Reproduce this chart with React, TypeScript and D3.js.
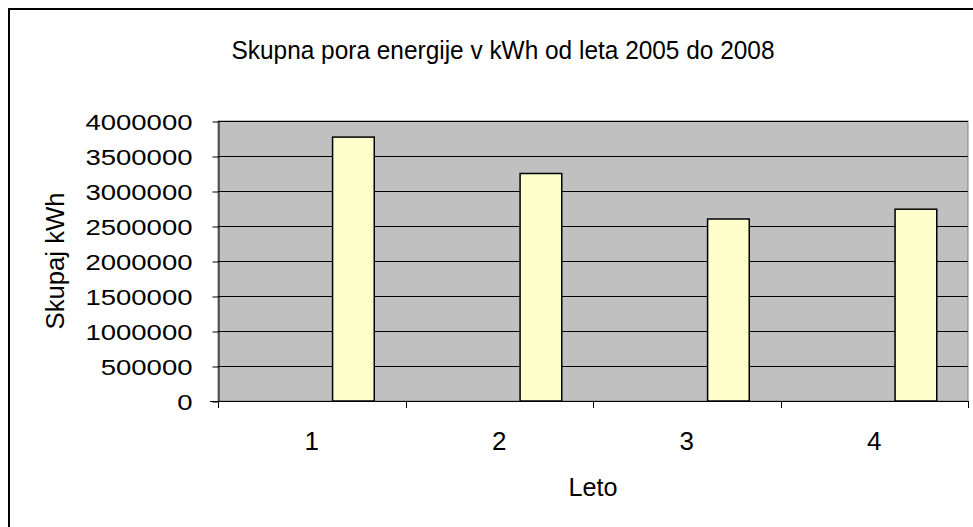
import * as d3 from 'd3';
import React, { useRef, useEffect } from 'react';

const years = ['1', '2', '3', '4'];
// chart had 3 series slots, only the last one is filled
const seriesKeys = ['a', 'b', 'skupaj'];
const totals = [3770000, 3250000, 2600000, 2740000];
const yTicks = [0, 500000, 1000000, 1500000, 2000000, 2500000, 3000000, 3500000, 4000000];

const W = 973;
const H = 527;

function App() {
    const ref = useRef<SVGSVGElement>(null);

    useEffect(() => {
        const svg = d3.select(ref.current);
        svg.selectAll('*').remove();

        const plot = { left: 218, top: 121, right: 968, bottom: 401 };

        // outer chart frame (runs off the right and bottom edges)
        svg.append('rect')
            .attr('x', 9).attr('y', 9)
            .attr('width', W + 20).attr('height', H + 20)
            .attr('fill', 'white')
            .attr('stroke', 'black')
            .attr('stroke-width', 2);

        const x = d3.scaleBand()
            .domain(years)
            .range([plot.left, plot.right])
            .padding(0);

        const xInner = d3.scaleBand()
            .domain(seriesKeys)
            .range([0, x.bandwidth()])
            .paddingInner(0)
            .paddingOuter(0.75);

        const y = d3.scaleLinear()
            .domain([0, 4000000])
            .range([plot.bottom, plot.top]);

        // plot background
        svg.append('rect')
            .attr('x', plot.left).attr('y', plot.top)
            .attr('width', plot.right - plot.left)
            .attr('height', plot.bottom - plot.top)
            .attr('fill', '#c0c0c0')
            .attr('stroke', '#808080')
            .attr('stroke-width', 1);

        // gridlines
        svg.append('g')
            .selectAll('line')
            .data(yTicks.filter(d => d > 0))
            .enter()
            .append('line')
            .attr('x1', plot.left).attr('x2', plot.right)
            .attr('y1', d => Math.round(y(d)) + 0.5)
            .attr('y2', d => Math.round(y(d)) + 0.5)
            .attr('stroke', 'black')
            .attr('stroke-width', 1);

        // bars
        svg.append('g')
            .selectAll('rect')
            .data(totals)
            .enter()
            .append('rect')
            .attr('x', (d, i) => (x(years[i]) as number) + (xInner('skupaj') as number))
            .attr('y', d => y(d))
            .attr('width', xInner.bandwidth())
            .attr('height', d => plot.bottom - y(d))
            .attr('fill', '#ffffcc')
            .attr('stroke', 'black')
            .attr('stroke-width', 1.5);

        // y axis
        const yAxis = d3.axisLeft(y)
            .tickValues(yTicks)
            .tickSize(6)
            .tickSizeOuter(0)
            .tickPadding(20)
            .tickFormat(d3.format('d'));

        const yAxisDraw = svg.append('g')
            .attr('transform', `translate(${plot.left + 0.5}, 0.5)`)
            .call(yAxis);
        yAxisDraw.select('.domain').attr('stroke', 'black');
        yAxisDraw.selectAll('line').attr('stroke', 'black');
        yAxisDraw.selectAll('text')
            .attr('font-family', 'Liberation Sans, Arial, sans-serif')
            .attr('font-size', 22.5)
            .attr('fill', 'black')
            .attr('dy', '0.36em')
            .attr('textLength', (d: any) => String(d).length * 15.3)
            .attr('lengthAdjust', 'spacingAndGlyphs');

        // x axis: ticks at category edges
        const edges = years.map(d => x(d) as number).concat([plot.right]);
        svg.append('line')
            .attr('x1', plot.left - 8).attr('x2', plot.right)
            .attr('y1', plot.bottom + 0.5).attr('y2', plot.bottom + 0.5)
            .attr('stroke', 'black');
        svg.append('g')
            .selectAll('line')
            .data(edges)
            .enter()
            .append('line')
            .attr('x1', d => Math.round(d) + 0.5).attr('x2', d => Math.round(d) + 0.5)
            .attr('y1', plot.bottom).attr('y2', plot.bottom + 7)
            .attr('stroke', 'black');

        svg.append('g')
            .selectAll('text')
            .data(years)
            .enter()
            .append('text')
            .attr('x', d => (x(d) as number) + x.bandwidth() / 2)
            .attr('y', 450)
            .attr('text-anchor', 'middle')
            .attr('font-family', 'Liberation Sans, Arial, sans-serif')
            .attr('font-size', 26)
            .text(d => d);

        // titles
        svg.append('text')
            .attr('x', 503).attr('y', 59)
            .attr('text-anchor', 'middle')
            .attr('font-family', 'Liberation Sans, Arial, sans-serif')
            .attr('font-size', 26)
            .attr('textLength', 543)
            .attr('lengthAdjust', 'spacingAndGlyphs')
            .text('Skupna pora energije v kWh od leta 2005 do 2008');

        svg.append('text')
            .attr('x', (plot.left + plot.right) / 2).attr('y', 496)
            .attr('text-anchor', 'middle')
            .attr('font-family', 'Liberation Sans, Arial, sans-serif')
            .attr('font-size', 26)
            .attr('textLength', 49)
            .attr('lengthAdjust', 'spacingAndGlyphs')
            .text('Leto');

        svg.append('text')
            .attr('transform', `translate(64, ${(plot.top + plot.bottom) / 2}) rotate(-90)`)
            .attr('text-anchor', 'middle')
            .attr('font-family', 'Liberation Sans, Arial, sans-serif')
            .attr('font-size', 25)
            .attr('textLength', 137)
            .attr('lengthAdjust', 'spacingAndGlyphs')
            .text('Skupaj kWh');
    }, []);

    return (
        <svg
            ref={ref}
            width={W}
            height={H}
            style={{ position: 'absolute', left: 0, top: 0, background: 'white' }}
        />
    );
}

export default App;
